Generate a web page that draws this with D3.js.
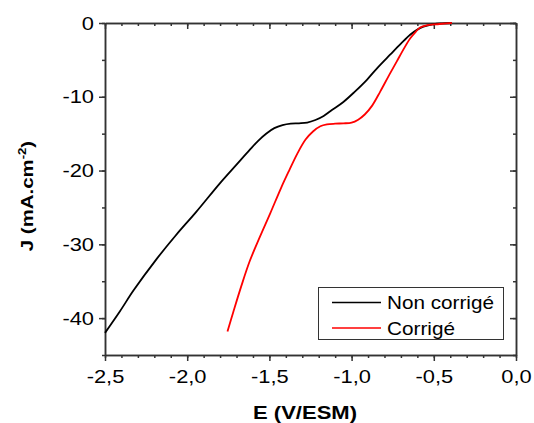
<!DOCTYPE html>
<html><head><meta charset="utf-8">
<script src="https://cdn.jsdelivr.net/npm/d3@7"></script>
<style>body{margin:0;background:#fff}svg{display:block}text{font-family:"Liberation Sans",Arial,sans-serif}</style>
</head><body><svg id="c" width="534" height="423"></svg>
<script>
const seriesNames = ["Non corrigé", "Corrigé"];
const seriesColors = ["#000000", "#ff0000"];
const nonCorrigeE = [-2.5, -2.41, -2.325, -2.19, -2.07, -1.945, -1.80, -1.70, -1.62, -1.57, -1.52, -1.47, -1.42, -1.37, -1.32, -1.27, -1.22, -1.17, -1.12, -1.05, -0.98, -0.907, -0.84, -0.766, -0.70, -0.644, -0.60, -0.563, -0.50, -0.45, -0.39];
const nonCorrigeJ = [-42.0, -39.1, -36.2, -32.1, -28.8, -25.6, -21.7, -19.2, -17.2, -16.0, -15.0, -14.25, -13.85, -13.65, -13.6, -13.5, -13.15, -12.6, -11.8, -10.7, -9.3, -7.7, -6.0, -4.3, -2.8, -1.6, -0.9, -0.5, -0.15, -0.05, 0];
const corrigeE = [-1.755, -1.72, -1.67, -1.62, -1.56, -1.495, -1.43, -1.38, -1.33, -1.28, -1.235, -1.19, -1.15, -1.10, -1.05, -1.0, -0.96, -0.92, -0.875, -0.826, -0.775, -0.725, -0.68, -0.644, -0.61, -0.583, -0.54, -0.50, -0.45, -0.39];
const corrigeJ = [-41.8, -39.2, -35.6, -32.3, -29.1, -25.8, -22.4, -20.0, -17.7, -15.8, -14.7, -14.0, -13.75, -13.65, -13.6, -13.5, -13.1, -12.4, -11.2, -9.3, -7.2, -5.2, -3.4, -2.1, -1.2, -0.6, -0.3, -0.2, -0.1, 0];
const xTicks = [-2.5, -2.0, -1.5, -1.0, -0.5, 0.0];
const yTicks = [0, -10, -20, -30, -40];

const svg = d3.select("#c");
const L = 105, R = 516, T = 23, B = 355;
const x = d3.scaleLinear().domain([-2.5, 0]).range([L, R]);
const y = d3.scaleLinear().domain([-45, 0]).range([B, T]);
const axisColor = "#333";
const fmt = d => d3.format(".1f")(d).replace("−", "-").replace(".", ",");
const stretch = 1.15;

const xMinor = d3.range(-2.5, 0.0001, 0.1).map(v => +v.toFixed(2));
const yMinor = d3.range(-45, 0.001, 5);

function styleAxis(g) {
  g.selectAll("path, line").attr("stroke", axisColor).attr("stroke-width", 1.5);
}
function widen(sel) {
  sel.each(function() {
    const w = this.getComputedTextLength();
    d3.select(this).attr("textLength", w * stretch).attr("lengthAdjust", "spacingAndGlyphs");
  });
}

// bottom
svg.append("g").attr("transform", `translate(0,${B})`)
  .call(d3.axisBottom(x).tickValues(xMinor).tickSize(3).tickFormat("").tickSizeOuter(0)).call(styleAxis);
const gb = svg.append("g").attr("transform", `translate(0,${B})`)
  .call(d3.axisBottom(x).tickValues(xTicks).tickSize(6).tickSizeOuter(0).tickFormat(fmt).tickPadding(9));
styleAxis(gb);
gb.selectAll("text").attr("font-size", 19).attr("fill", "#000").call(widen);

// top
svg.append("g").attr("transform", `translate(0,${T})`)
  .call(d3.axisBottom(x).tickValues(xMinor).tickSize(3).tickFormat("").tickSizeOuter(0)).call(styleAxis);
svg.append("g").attr("transform", `translate(0,${T})`)
  .call(d3.axisBottom(x).tickValues(xTicks).tickSize(6).tickFormat("").tickSizeOuter(0)).call(styleAxis);

// left
svg.append("g").attr("transform", `translate(${L},0)`)
  .call(d3.axisLeft(y).tickValues(yMinor).tickSize(3).tickFormat("").tickSizeOuter(0)).call(styleAxis);
const gl = svg.append("g").attr("transform", `translate(${L},0)`)
  .call(d3.axisLeft(y).tickValues(yTicks).tickSize(6).tickSizeOuter(0).tickFormat(d => String(d)).tickPadding(5));
styleAxis(gl);
gl.selectAll("text").attr("font-size", 19).attr("fill", "#000").call(widen);

// right
svg.append("g").attr("transform", `translate(${R},0)`)
  .call(d3.axisLeft(y).tickValues(yMinor).tickSize(3).tickFormat("").tickSizeOuter(0)).call(styleAxis);
svg.append("g").attr("transform", `translate(${R},0)`)
  .call(d3.axisLeft(y).tickValues(yTicks).tickSize(6).tickFormat("").tickSizeOuter(0)).call(styleAxis);

// lines
const line = d3.line().x(d => x(d[0])).y(d => y(d[1])).curve(d3.curveCatmullRom.alpha(0.5));
const data = [d3.zip(nonCorrigeE, nonCorrigeJ), d3.zip(corrigeE, corrigeJ)];
data.forEach((pts, i) => {
  svg.append("path").datum(pts).attr("d", line).attr("fill", "none")
    .attr("stroke", seriesColors[i]).attr("stroke-width", 1.8).attr("stroke-linejoin", "round");
});

// legend
const lg = svg.append("g");
lg.append("rect").attr("x", 318.5).attr("y", 287.5).attr("width", 185).attr("height", 52)
  .attr("fill", "#fff").attr("stroke", "#333").attr("stroke-width", 1);
const legendW = [107, 68];
seriesNames.forEach((n, i) => {
  const yy = 302.5 + i * 25.5;
  lg.append("line").attr("x1", 332).attr("x2", 381).attr("y1", yy).attr("y2", yy)
    .style("stroke", seriesColors[i]).style("stroke-width", 1.5);
  lg.append("text").attr("x", 387).attr("y", yy + 6.5).attr("font-size", 19)
    .attr("textLength", legendW[i]).attr("lengthAdjust", "spacingAndGlyphs").text(n);
});

// axis titles
svg.append("text").attr("x", 253).attr("y", 419)
  .attr("font-size", 18).attr("font-weight", "bold")
  .attr("textLength", 104).attr("lengthAdjust", "spacingAndGlyphs").text("E (V/ESM)");
const yt = svg.append("text").attr("transform", "translate(33,196) rotate(-90) scale(1.2,1)")
  .attr("text-anchor", "middle").attr("font-size", 17).attr("font-weight", "bold");
yt.append("tspan").text("J (mA.cm");
yt.append("tspan").attr("font-size", 11).attr("dy", -7).text("-2");
yt.append("tspan").attr("dy", 7).text(")");
</script></body></html>
